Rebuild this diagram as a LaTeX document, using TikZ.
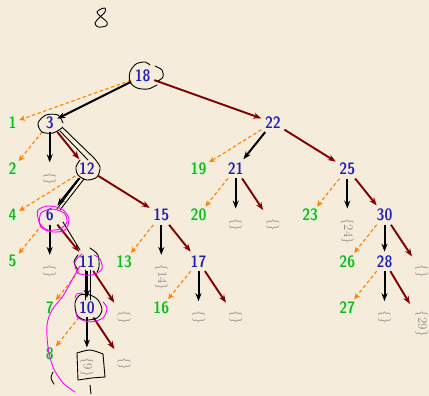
\documentclass[tikz,border=0pt]{standalone}
\usepackage{fontspec}
\newfontfamily\knuthsf{lmsansdemicond10-regular.otf}
\usetikzlibrary{arrows.meta}

\definecolor{paper}{HTML}{F5ECDB}
\definecolor{nodeblue}{HTML}{2020B0}
\definecolor{leafgreen}{HTML}{18B418}
\definecolor{leafbg}{HTML}{E3F4DA}
\definecolor{linkred}{HTML}{800000}
\definecolor{linkorange}{HTML}{FF8000}
\definecolor{nilgray}{HTML}{8C8C8C}
\definecolor{pen}{HTML}{FF00FF}

\begin{document}
\begin{tikzpicture}[x=1pt,y=-1pt,
		inode/.style={font=\knuthsf\fontsize{16.5}{17}\selectfont, text=nodeblue, inner sep=3.5pt},
		leaf/.style={font=\knuthsf\fontsize{16.5}{17}\selectfont, text=leafgreen, fill=leafbg, inner sep=0.8pt},
		nil/.style={font=\fontsize{13}{14}\selectfont, text=nilgray, rotate=-90, anchor=west, inner sep=0.5pt},
		mlink/.style={-{Stealth[length=8pt,width=6pt]}, line width=2pt, black},
		rlink/.style={-{Stealth[length=8pt,width=6pt]}, line width=1.9pt, linkred},
		llink/.style={-{Stealth[length=6pt,width=5.5pt]}, line width=1.1pt, linkorange, dash pattern=on 3.5pt off 2.5pt, shorten >=2pt},
		tonil/.style={shorten >=9pt},
		ink/.style={line width=0.9pt, black, line cap=round, line join=round},
		marker/.style={line width=0.9pt, pen, line cap=round, line join=round}]
		
	\useasboundingbox (0,0) rectangle (429,396);
	\fill[paper] (0,0) rectangle (429,396);
	
	% inner nodes
	\node[inode] (n18) at (142.7,76) {18};
	\node[inode] (n3) at (49.7,122.5) {3};
	\node[inode] (n22) at (272.9,122.5) {22};
	\node[inode] (n12) at (86.9,168.8) {12};
	\node[inode] (n21) at (235.7,168.8) {21};
	\node[inode] (n25) at (347.3,168.8) {25};
	\node[inode] (n6) at (49.7,215.1) {6};
	\node[inode] (n15) at (161.3,215.1) {15};
	\node[inode] (n30) at (384.5,215.1) {30};
	\node[inode] (n11) at (86.9,261.4) {11};
	\node[inode] (n17) at (198.5,261.4) {17};
	\node[inode] (n28) at (384.5,261.4) {28};
	\node[inode] (n10) at (86.9,307.7) {10};
	
	% leaves
	\node[leaf] (l1) at (12.5,122.5) {1};
	\node[leaf] (l2) at (12.5,168.8) {2};
	\node[leaf] (l19) at (198.5,168.8) {19};
	\node[leaf] (l4) at (12.5,215.1) {4};
	\node[leaf] (l20) at (198.5,215.1) {20};
	\node[leaf] (l23) at (310.1,215.1) {23};
	\node[leaf] (l5) at (12.5,261.4) {5};
	\node[leaf] (l13) at (124.1,261.4) {13};
	\node[leaf] (l26) at (347.3,261.4) {26};
	\node[leaf] (l7) at (49.7,307.7) {7};
	\node[leaf] (l16) at (161.3,307.7) {16};
	\node[leaf] (l27) at (347.3,307.7) {27};
	\node[leaf] (l8) at (49.7,354) {8};
	
	% empty links
	\node[nil] (z3) at (49.7,171.3) {\{\}};
	\node[nil] (z21m) at (235.7,217.6) {\{\}};
	\node[nil] (z21r) at (272.9,217.6) {\{\}};
	\node[nil] (z24) at (347.3,217.6) {\{24\}};
	\node[nil] (z6) at (49.7,263.9) {\{\}};
	\node[nil] (z14) at (161.3,263.9) {\{14\}};
	\node[nil] (z30) at (421.7,263.9) {\{\}};
	\node[nil] (z11) at (124.1,310.2) {\{\}};
	\node[nil] (z17m) at (198.5,310.2) {\{\}};
	\node[nil] (z17r) at (235.7,310.2) {\{\}};
	\node[nil] (z28) at (384.5,310.2) {\{\}};
	\node[nil] (z29) at (421.7,310.2) {\{29\}};
	\node[nil] (z9) at (86.9,356.5) {\{9\}};
	\node[nil] (z10) at (124.1,356.5) {\{\}};
	
	% links
	\draw[llink] (n18) -- (l1);
	\draw[mlink] (n18) -- (n3);
	\draw[rlink] (n18) -- (n22);
	
	\draw[llink] (n3) -- (l2);
	\draw[mlink, tonil] (n3) -- (z3);
	\draw[rlink] (n3) -- (n12);
	
	\draw[llink] (n12) -- (l4);
	\draw[mlink] (n12) -- (n6);
	\draw[rlink] (n12) -- (n15);
	
	\draw[llink] (n6) -- (l5);
	\draw[mlink, tonil] (n6) -- (z6);
	\draw[rlink] (n6) -- (n11);
	
	\draw[llink] (n11) -- (l7);
	\draw[mlink] (n11) -- (n10);
	\draw[rlink, tonil] (n11) -- (z11);
	
	\draw[llink] (n10) -- (l8);
	\draw[mlink, tonil] (n10) -- (z9);
	\draw[rlink, tonil] (n10) -- (z10);
	
	\draw[llink] (n15) -- (l13);
	\draw[mlink, tonil] (n15) -- (z14);
	\draw[rlink] (n15) -- (n17);
	
	\draw[llink] (n17) -- (l16);
	\draw[mlink, tonil] (n17) -- (z17m);
	\draw[rlink, tonil] (n17) -- (z17r);
	
	\draw[llink] (n22) -- (l19);
	\draw[mlink] (n22) -- (n21);
	\draw[rlink] (n22) -- (n25);
	
	\draw[llink] (n21) -- (l20);
	\draw[mlink, tonil] (n21) -- (z21m);
	\draw[rlink, tonil] (n21) -- (z21r);
	
	\draw[llink] (n25) -- (l23);
	\draw[mlink, tonil] (n25) -- (z24);
	\draw[rlink] (n25) -- (n30);
	
	\draw[llink] (n30) -- (l26);
	\draw[mlink] (n30) -- (n28);
	\draw[rlink, tonil] (n30) -- (z30);
	
	\draw[llink] (n28) -- (l27);
	\draw[mlink, tonil] (n28) -- (z28);
	\draw[rlink, tonil] (n28) -- (z29);
	
	% handwritten marks
	\draw[ink] plot[smooth] coordinates {(101,9) (105,8) (105,12) (99,18) (95,23) (98,27) (106,26) (107,22) (100,16) (97,12) (101,9)};
	\draw[ink] plot[smooth] coordinates {(157,85) (148,89) (137,88) (130,82) (130,72) (136,64) (145,62) (150,65)};
	\draw[ink] plot[smooth] coordinates {(155,66) (162,70) (163,77) (158,81)};
	\draw[ink] plot[smooth] coordinates {(63,123) (58,115) (46,115) (38,123) (42,132) (53,133) (62,128)};
	\draw[ink] (62,127) -- (94,158);
	\draw[ink] (60,131) -- (88,160);
	\draw[ink] plot[smooth] coordinates {(94,158) (100,167) (97,177) (87,180) (78,175) (76,167) (80,160)};
	\draw[ink] (80,178) -- (57,209);
	\draw[ink] (84,179) -- (60,210);
	\draw[ink] (63,222) -- (80,250);
	\draw[ink] plot[smooth] coordinates {(90,248) (98,255) (99,267) (97,272)};
	\draw[ink] plot[smooth] coordinates {(78,255) (74,262) (78,270)};
	\draw[ink] (85,270) -- (85,300);
	\draw[ink] (90,270) -- (90,300);
	\draw[ink] plot[smooth cycle] coordinates {(80,295) (75,303) (77,315) (85,320) (97,318) (102,310) (98,300) (90,295)};
	\draw[ink] plot[smooth] coordinates {(77,353) (90,350) (103,354)};
	\draw[ink] (103,354) -- (105,377);
	\draw[ink] plot[smooth] coordinates {(105,377) (92,378) (78,380)};
	\draw[ink] (78,380) -- (77,353);
	\draw[ink] (90,385) -- (91,394);
	\draw[ink] plot[smooth] coordinates {(53,372) (51,378) (54,384)};
	
	\draw[marker] plot[smooth cycle] coordinates {(38,210) (48,206) (62,209) (69,219) (65,230) (53,232) (42,228) (38,218)};
	\draw[marker] plot[smooth cycle] coordinates {(41,213) (52,209) (64,213) (67,222) (60,229) (48,230) (40,224)};
	\draw[marker] plot[smooth] coordinates {(82,254) (75,262) (78,273) (92,275) (102,269) (100,259) (94,255)};
	\draw[marker] plot[smooth] coordinates {(75,298) (77,294) (83,293)};
	\draw[marker] plot[smooth] coordinates {(76,312) (78,318) (90,322) (103,318) (107,308) (103,302)};
	\draw[marker] plot[smooth] coordinates {(80,266) (73,278) (63,296) (52,310) (47,325) (48,347) (53,367) (63,383) (75,392)};
	
\end{tikzpicture}
\end{document}
